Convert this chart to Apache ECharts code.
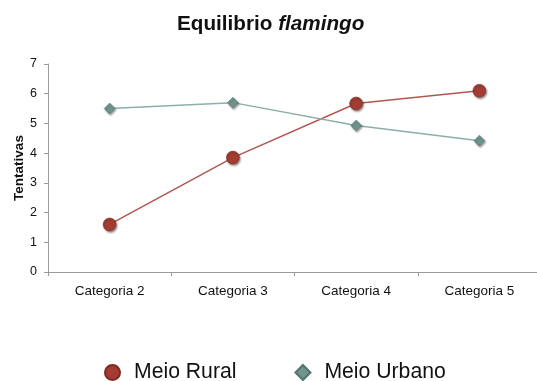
<!DOCTYPE html>
<html>
<head>
<meta charset="utf-8">
<script src="https://cdn.jsdelivr.net/npm/echarts@6/dist/echarts.min.js"></script>
<style>
  html, body { margin: 0; padding: 0; background: #fff; }
  #chart { width: 537px; height: 381px; }
</style>
</head>
<body>
<div id="chart"></div>
<script>
// Categories and series values
const categories = ['Categoria 2', 'Categoria 3', 'Categoria 4', 'Categoria 5'];
const meioRural = [1.6, 3.85, 5.67, 6.1];
const meioUrbano = [5.5, 5.7, 4.93, 4.42];
const yTicks = [0, 1, 2, 3, 4, 5, 6, 7];

const chart = echarts.init(document.getElementById('chart'));

const axisGray = '#9a9a9a';
const font = 'Liberation Sans, Arial, sans-serif';

chart.setOption({
  backgroundColor: '#ffffff',
  animation: false,
  title: {
    text: '{b|Equilibrio }{i|flamingo}',
    left: 177,
    top: 14,
    padding: 0,
    textStyle: {
      rich: {
        b: { fontFamily: font, fontWeight: 'bold', fontSize: 20.7, color: '#111' },
        i: { fontFamily: font, fontWeight: 'bold', fontStyle: 'italic', fontSize: 20.7, color: '#111' }
      }
    }
  },
  legend: {
    left: 104,
    top: 362,
    padding: 0,
    itemGap: 58,
    itemWidth: 15,
    itemHeight: 15,
    textStyle: { fontFamily: font, fontSize: 21.2, color: '#111', padding: [0, 0, 0, 9] },
    data: [
      { name: 'Meio Rural', icon: 'circle' },
      { name: 'Meio Urbano', icon: 'diamond' }
    ]
  },
  grid: { left: 48, right: -4, top: 64, height: 208, outerBoundsMode: 'none' },
  xAxis: {
    type: 'category',
    data: categories,
    boundaryGap: true,
    axisLine: { lineStyle: { color: axisGray, width: 1 } },
    axisTick: { show: true, length: 4, lineStyle: { color: axisGray } },
    axisLabel: { fontFamily: font, fontSize: 13.5, color: '#111', margin: 12 }
  },
  yAxis: {
    type: 'value',
    min: yTicks[0],
    max: yTicks[yTicks.length - 1],
    interval: 1,
    name: 'Tentativas',
    nameLocation: 'middle',
    nameGap: 22,
    nameMoveOverlap: false,
    nameTextStyle: { fontFamily: font, fontWeight: 'bold', fontSize: 13.5, color: '#111' },
    splitLine: { show: false },
    axisLine: { show: true, lineStyle: { color: axisGray, width: 1 } },
    axisTick: { show: true, length: 4, lineStyle: { color: axisGray } },
    axisLabel: { fontFamily: font, fontSize: 12.5, color: '#111', margin: 11 }
  },
  series: [
    {
      name: 'Meio Rural',
      type: 'line',
      data: meioRural,
      symbol: 'circle',
      symbolSize: 13,
      lineStyle: { color: '#b3564f', width: 1.5 },
      itemStyle: {
        color: '#a33d33',
        borderColor: '#7d2a22',
        borderWidth: 0.5,
        shadowColor: 'rgba(0,0,0,0.45)',
        shadowBlur: 2,
        shadowOffsetX: 1,
        shadowOffsetY: 1.5
      }
    },
    {
      name: 'Meio Urbano',
      type: 'line',
      data: meioUrbano,
      symbol: 'diamond',
      symbolSize: 11,
      lineStyle: { color: '#8cafaa', width: 1.5 },
      itemStyle: {
        color: '#6f948e',
        borderColor: '#55736e',
        borderWidth: 0.5,
        shadowColor: 'rgba(0,0,0,0.4)',
        shadowBlur: 2,
        shadowOffsetX: 1,
        shadowOffsetY: 1.5
      }
    }
  ]
});
</script>
</body>
</html>
